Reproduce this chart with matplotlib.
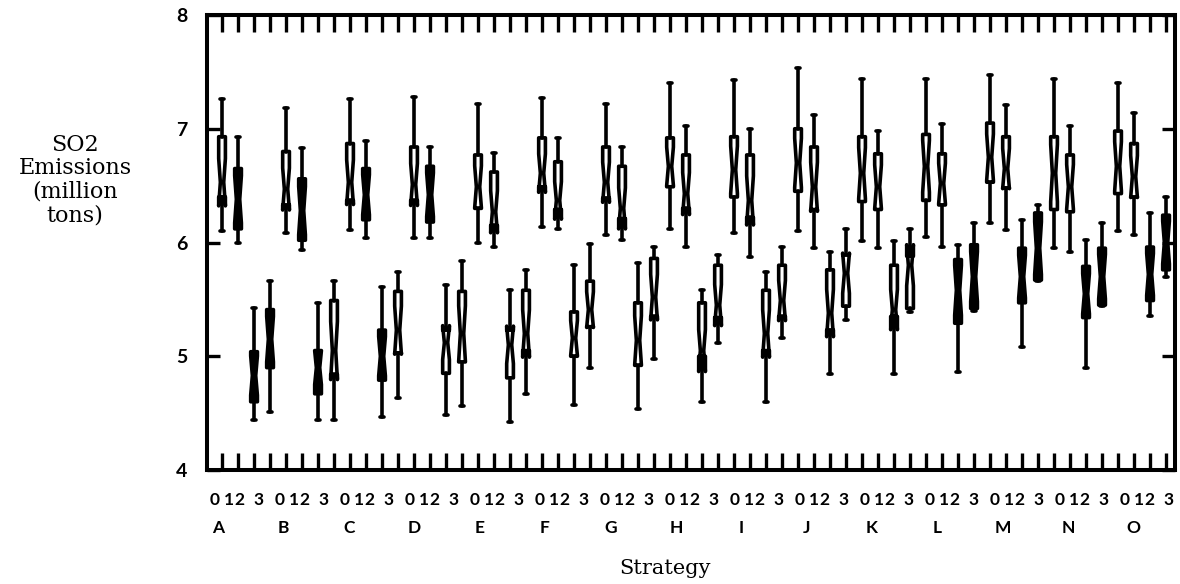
import matplotlib
matplotlib.use("Agg")
import matplotlib.pyplot as plt
import numpy as np
from matplotlib.transforms import blended_transform_factory

# Strategies A..O, each run at levels 0..3
strategies = list("ABCDEFGHIJKLMNO")
levels = ["0", "1", "2", "3"]

# SO2 emissions (million tons): one row per strategy, one column per level
whisker_low = [
    [6.10, 6.00, 4.44, 4.51], [6.08, 5.93, 4.44, 4.44], [6.11, 6.04, 4.47, 4.63],
    [6.04, 6.04, 4.48, 4.56], [6.00, 5.96, 4.42, 4.67], [6.14, 6.12, 4.57, 4.90],
    [6.07, 6.02, 4.54, 4.98], [6.12, 5.96, 4.60, 5.12], [6.08, 5.87, 4.60, 5.16],
    [6.10, 5.95, 4.84, 5.32], [6.01, 5.95, 4.84, 5.39], [6.05, 5.96, 4.86, 5.40],
    [6.17, 6.11, 5.08, 5.66], [5.95, 5.92, 4.90, 5.44], [6.10, 6.07, 5.35, 5.70],
]
quartile_low = [
    [6.40, 6.12, 4.60, 4.90], [6.33, 6.02, 4.67, 4.84], [6.37, 6.20, 4.79, 5.03],
    [6.37, 6.18, 4.85, 4.95], [6.30, 6.15, 4.81, 5.05], [6.49, 6.29, 5.00, 5.26],
    [6.39, 6.21, 4.92, 5.35], [6.49, 6.30, 5.00, 5.34], [6.40, 6.22, 5.05, 5.35],
    [6.45, 6.29, 5.23, 5.44], [6.36, 6.29, 5.35, 5.42], [6.37, 6.33, 5.29, 5.42],
    [6.53, 6.48, 5.47, 5.67], [6.29, 6.27, 5.34, 5.45], [6.43, 6.40, 5.49, 5.76],
]
median = [
    [6.53, 6.38, 4.83, 5.15], [6.47, 6.28, 4.90, 5.05], [6.53, 6.42, 5.00, 5.23],
    [6.51, 6.42, 5.12, 5.20], [6.49, 6.27, 5.10, 5.20], [6.61, 6.37, 5.16, 5.41],
    [6.53, 6.30, 5.14, 5.52], [6.67, 6.43, 5.05, 5.45], [6.64, 6.37, 5.20, 5.49],
    [6.70, 6.49, 5.38, 5.73], [6.61, 6.49, 5.41, 5.80], [6.67, 6.52, 5.58, 5.70],
    [6.75, 6.65, 5.70, 5.95], [6.61, 6.49, 5.55, 5.70], [6.67, 6.58, 5.72, 6.00],
]
quartile_high = [
    [6.93, 6.65, 5.04, 5.41], [6.80, 6.56, 5.05, 5.49], [6.87, 6.65, 5.23, 5.57],
    [6.84, 6.67, 5.23, 5.57], [6.77, 6.62, 5.23, 5.58], [6.92, 6.71, 5.39, 5.66],
    [6.84, 6.67, 5.47, 5.86], [6.92, 6.77, 5.47, 5.80], [6.93, 6.77, 5.58, 5.80],
    [7.00, 6.84, 5.76, 5.89], [6.93, 6.78, 5.80, 5.88], [6.95, 6.78, 5.85, 5.98],
    [7.05, 6.93, 5.95, 6.26], [6.93, 6.77, 5.79, 5.95], [6.98, 6.87, 5.96, 6.24],
]
whisker_high = [
    [7.26, 6.93, 5.42, 5.66], [7.18, 6.83, 5.47, 5.66], [7.26, 6.89, 5.61, 5.74],
    [7.28, 6.84, 5.63, 5.84], [7.22, 6.79, 5.58, 5.76], [7.27, 6.92, 5.80, 5.99],
    [7.22, 6.84, 5.82, 5.96], [7.40, 7.02, 5.58, 5.89], [7.43, 7.00, 5.74, 5.96],
    [7.53, 7.12, 5.92, 6.12], [7.44, 6.98, 6.01, 6.12], [7.44, 7.04, 5.98, 6.17],
    [7.47, 7.21, 6.20, 6.33], [7.44, 7.02, 6.02, 6.17], [7.40, 7.14, 6.26, 6.40],
]
runs_per_box = 16
y_ticks = [4, 5, 6, 7, 8]

# boxes printed as solid black
dark_boxes = {("A", 1), ("A", 2), ("A", 3), ("B", 1), ("B", 2), ("C", 1), ("C", 2),
              ("D", 1), ("L", 2), ("L", 3), ("M", 2), ("M", 3), ("N", 2), ("N", 3),
              ("O", 2), ("O", 3)}

plt.rcParams["font.family"] = ["Lato", "DejaVu Sans"]

fig = plt.figure(figsize=(11.8, 5.84), dpi=100)
ax = fig.add_axes([207 / 1180, 1 - 470 / 584, 968 / 1180, 455 / 584])

stats, positions, faces = [], [], []
for s, name in enumerate(strategies):
    for k in range(len(levels)):
        q1, q3, med = quartile_low[s][k], quartile_high[s][k], median[s][k]
        half = 1.57 * (q3 - q1) / np.sqrt(runs_per_box)
        stats.append(dict(med=med, q1=q1, q3=q3,
                          whislo=whisker_low[s][k], whishi=whisker_high[s][k],
                          cilo=med - half, cihi=med + half, fliers=[]))
        positions.append(4 * s + k)
        faces.append("black" if (name, k) in dark_boxes else "white")

art = ax.bxp(stats, positions=positions, widths=0.42, shownotches=True,
             patch_artist=True, showfliers=False, capwidths=0.24,
             boxprops=dict(linewidth=2.6, edgecolor="black", joinstyle="round"),
             whiskerprops=dict(linewidth=2.6, color="black", solid_capstyle="round"),
             capprops=dict(linewidth=2.6, color="black", solid_capstyle="round"),
             medianprops=dict(linewidth=0))
for patch, fc in zip(art["boxes"], faces):
    patch.set_facecolor(fc)

ax.set_xlim(-0.94, 59.56)
ax.set_ylim(4, 8)
for sp in ax.spines.values():
    sp.set_linewidth(2.9)

# tick marks at every box, on top and bottom, pointing inward
ax.set_xticks(positions, minor=True)
ax.tick_params(axis="x", which="minor", direction="in", length=12, width=2.4,
               top=True, bottom=True)

# level digits under each strategy group
digit_pos, digit_lab = [], []
offsets = [0.0, 0.9, 1.55, 2.75]
for s in range(len(strategies)):
    start = -0.44 + s * 4.0625
    for k, lab in enumerate(levels):
        digit_pos.append(start + offsets[k])
        digit_lab.append(lab)
ax.set_xticks(digit_pos)
ax.set_xticklabels(digit_lab, fontsize=12.5, fontweight="bold")
ax.tick_params(axis="x", which="major", length=0, pad=16)

trans = blended_transform_factory(ax.transData, ax.transAxes)
for s, name in enumerate(strategies):
    ax.text(-0.25 + s * 4.0875, -0.1275, name, transform=trans, ha="center",
            va="center", fontsize=12.5, fontweight="bold")

ax.set_yticks(y_ticks)
ax.set_yticklabels([str(v) for v in y_ticks], fontsize=14, fontweight="bold")
ax.tick_params(axis="y", direction="in", length=9.5, width=2.4, left=True,
               right=True, pad=14)

fig.text(75 / 1180, 1 - 180 / 584, "SO2\nEmissions\n(million\ntons)",
         ha="center", va="center", ma="center", fontsize=16,
         family="DejaVu Serif", linespacing=1.08)
fig.text(665 / 1180, 1 - 568 / 584, "Strategy", ha="center", va="center",
         fontsize=15, family="DejaVu Serif")

fig.savefig("out.png", dpi=100)
